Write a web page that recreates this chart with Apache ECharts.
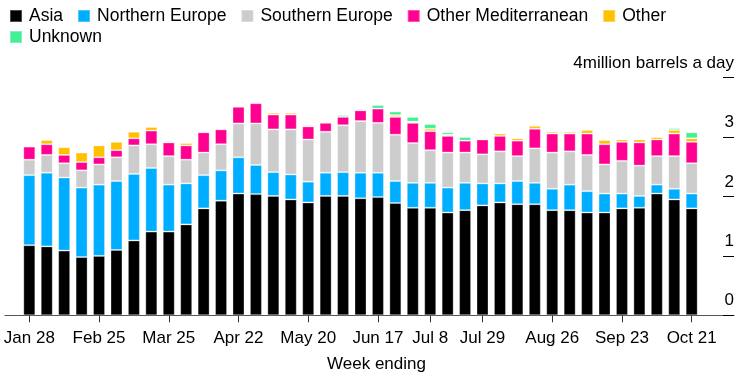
<!DOCTYPE html>
<html>
<head>
<meta charset="utf-8">
<script src="https://cdn.jsdelivr.net/npm/echarts@6/dist/echarts.min.js"></script>
<style>
html,body{margin:0;padding:0;background:#fff;}
#chart{width:748px;height:390px;}
</style>
</head>
<body>
<div id="chart"></div>
<script>
const categories = ["Jan 28","Feb 4","Feb 11","Feb 18","Feb 25","Mar 4","Mar 11","Mar 18","Mar 25","Apr 1","Apr 8","Apr 15","Apr 22","Apr 29","May 6","May 13","May 20","May 27","Jun 3","Jun 10","Jun 17","Jun 24","Jul 1","Jul 8","Jul 15","Jul 22","Jul 29","Aug 5","Aug 12","Aug 19","Aug 26","Sep 2","Sep 9","Sep 16","Sep 23","Sep 30","Oct 7","Oct 14","Oct 21"];
const tickLabels = ["Jan 28","Feb 25","Mar 25","Apr 22","May 20","Jun 17","Jul 8","Jul 29","Aug 26","Sep 23","Oct 21"];
const yTickValues = [0,1,2,3,4];
const yUnit = "million barrels a day";

const asia = [1.18,1.16,1.09,0.98,1.00,1.10,1.26,1.41,1.41,1.53,1.80,1.93,2.05,2.04,2.01,1.95,1.90,2.01,2.01,1.97,1.99,1.89,1.81,1.81,1.73,1.77,1.85,1.90,1.87,1.87,1.77,1.77,1.73,1.73,1.80,1.81,2.05,1.95,1.80];
const northernEurope = [1.18,1.24,1.23,1.17,1.20,1.16,1.12,1.07,0.79,0.69,0.56,0.51,0.61,0.49,0.40,0.42,0.35,0.39,0.40,0.43,0.41,0.37,0.42,0.42,0.42,0.46,0.37,0.32,0.39,0.36,0.36,0.43,0.36,0.32,0.25,0.20,0.15,0.18,0.25];
const southernEurope = [0.26,0.30,0.24,0.29,0.34,0.40,0.48,0.40,0.48,0.40,0.38,0.44,0.57,0.70,0.72,0.76,0.71,0.69,0.79,0.87,0.84,0.78,0.67,0.55,0.59,0.51,0.49,0.54,0.42,0.58,0.61,0.56,0.61,0.49,0.55,0.51,0.48,0.55,0.51];
const otherMediterranean = [0.22,0.18,0.14,0.14,0.12,0.12,0.12,0.23,0.23,0.24,0.34,0.25,0.28,0.34,0.25,0.25,0.22,0.15,0.14,0.18,0.24,0.30,0.34,0.32,0.28,0.20,0.25,0.26,0.26,0.33,0.32,0.30,0.36,0.34,0.32,0.39,0.28,0.38,0.36];
const other = [0,0.07,0.13,0.16,0.20,0.14,0.11,0.06,0.02,0.04,0,0,0,0,0.03,0.03,0.02,0.02,0,0,0,0.03,0.02,0.04,0.02,0,0.02,0.04,0.04,0.05,0.03,0.03,0.06,0.07,0.04,0.05,0.04,0.06,0.06];
const unknown = [0,0,0,0,0,0,0,0,0,0,0,0,0,0,0,0,0,0,0.03,0.02,0.06,0.06,0.08,0.08,0.04,0.06,0,0,0,0,0,0,0,0,0,0,0,0.03,0.10];

const seriesDefs = [
  {name:"Asia", data:asia, color:"#000000"},
  {name:"Northern Europe", data:northernEurope, color:"#00aeff"},
  {name:"Southern Europe", data:southernEurope, color:"#cccccc"},
  {name:"Other Mediterranean", data:otherMediterranean, color:"#ff0090"},
  {name:"Other", data:other, color:"#ffc000"},
  {name:"Unknown", data:unknown, color:"#44ef96"}
];

const FONT = "Liberation Sans";
const chart = echarts.init(document.getElementById('chart'), null, {renderer:'canvas'});
const showTick = (i, v) => tickLabels.indexOf(v) >= 0;
const legendText = {fontSize:17.5, color:'#000', fontFamily:FONT, padding:[0,0,0,2]};

const option = {
  animation:false,
  backgroundColor:'#ffffff',
  textStyle:{fontFamily:FONT},
  legend:[
    {data:["Asia","Northern Europe","Southern Europe","Other Mediterranean","Other"], left:4, top:2, itemWidth:12, itemHeight:12, itemGap:14, icon:'rect', textStyle:legendText, selectedMode:false},
    {data:["Unknown"], left:4, top:23, itemWidth:12, itemHeight:12, icon:'rect', textStyle:legendText, selectedMode:false}
  ],
  grid:[
    {left:20.6, right:47.6, top:77.7, bottom:74.7},
    {left:5, right:14, top:77.7, bottom:74.7}
  ],
  xAxis:[
    {type:'category', gridIndex:0, data:categories,
     axisLine:{show:false},
     axisTick:{show:true, alignWithLabel:true, interval:showTick, length:7, lineStyle:{color:'#333'}},
     axisLabel:{interval:showTick, fontSize:17, color:'#000', margin:15, fontFamily:FONT}},
    {type:'value', gridIndex:1, min:0, max:1,
     axisLine:{show:true, onZero:false, lineStyle:{color:'#555', width:1}},
     axisTick:{show:false}, axisLabel:{show:false}, splitLine:{show:false},
     name:'Week ending', nameLocation:'middle', nameGap:41,
     nameTextStyle:{fontSize:17, color:'#000', fontFamily:FONT, padding:[0,0,0,14]}}
  ],
  yAxis:[
    {type:'value', gridIndex:0, min:0, max:4, show:false},
    {type:'value', gridIndex:1, position:'right', min:0, max:4, interval:1,
     axisLine:{show:false, onZero:false},
     axisTick:{show:true, inside:true, length:11, lineStyle:{color:'#000', width:1}},
     splitLine:{show:false},
     axisLabel:{inside:true, margin:0, fontSize:17, color:'#000', fontFamily:FONT,
       verticalAlign:'bottom', padding:[0,0,6,0],
       formatter:(v)=> v === yTickValues[yTickValues.length-1] ? v + yUnit : String(v)}}
  ],
  series: seriesDefs.map(s => ({
    name:s.name, type:'bar', stack:'total', xAxisIndex:0, yAxisIndex:0,
    barWidth:12,
    itemStyle:{color:s.color, borderColor:'rgba(255,255,255,0.3)', borderWidth:1},
    data:s.data.map(v => v === 0 ? null : v)
  }))
};
chart.setOption(option);
</script>
</body>
</html>
